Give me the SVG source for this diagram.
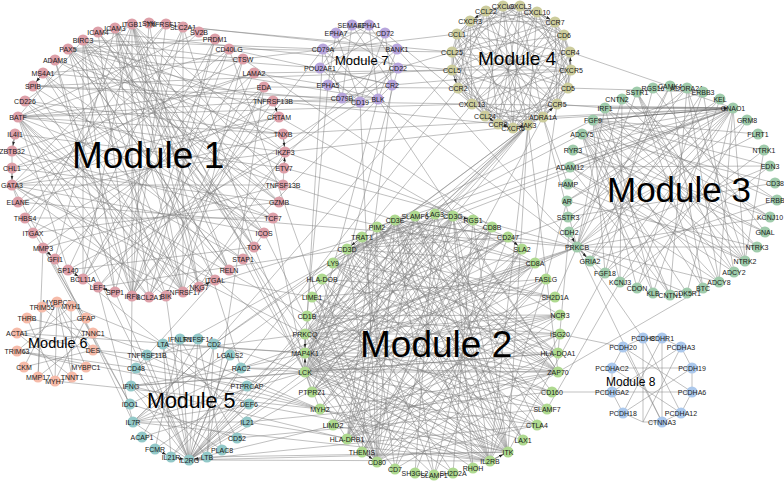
<svg xmlns="http://www.w3.org/2000/svg" width="784" height="481" viewBox="0 0 784 481">
<style>
text{font-family:"Liberation Sans",Arial,sans-serif;font-size:7px;text-anchor:middle;fill:#1a1a1a}
.mt{font-size:37px;text-anchor:start;fill:#000}
#edges path,#edges polygon{fill:none;stroke:#808080;stroke-width:0.5}
#edges line{stroke:#555;stroke-width:0.6;marker-end:url(#ah)}
.m1 circle{fill:#dd9fa8}
.m2 circle{fill:#aed98f}
.m3 circle{fill:#9fcbab}
.m4 circle{fill:#cccc9c}
.m5 circle{fill:#92c8c8}
.m6 circle{fill:#f6bba9}
.m7 circle{fill:#b7a5dc}
.m8 circle{fill:#abc8ec}
</style>
<defs>
<marker id="ah" markerUnits="userSpaceOnUse" markerWidth="12" markerHeight="6" refX="9.5" refY="1.5" orient="auto"><path d="M0,0L4,1.5L0,3z" fill="#222"/></marker>
</defs>
<rect width="784" height="481" fill="#fff"/>
<g id="edges">
<polygon points="503,6 520,6 537,12 555,22 564,35 570,52 571,70 568,88 557,104 543,117 528,125 513,128 498,124 485,116 472,104 458,88 452,70 452,52 457,34 470,21 486,11"/>
<polygon points="503,6 537,12 564,35 571,70 557,104 528,125 498,124 472,104 452,70 457,34 486,11 520,6 555,22 570,52 568,88 543,117 513,128 485,116 458,88 452,52 470,21"/>
<polygon points="503,6 564,35 557,104 498,124 452,70 486,11 555,22 568,88 513,128 458,88 470,21 537,12 571,70 528,125 472,104 457,34 520,6 570,52 543,117 485,116 452,52"/>
<polygon points="503,6 570,52 528,125 458,88 486,11 564,35 543,117 472,104 470,21 555,22 557,104 485,116 457,34 537,12 568,88 498,124 452,52 520,6 571,70 513,128 452,70"/>
<polygon points="503,6 557,104 452,70 555,22 513,128 470,21 571,70 472,104 520,6 543,117 452,52 564,35 498,124 486,11 568,88 458,88 537,12 528,125 457,34 570,52 485,116"/>
<polygon points="503,6 528,125 486,11 543,117 470,21 557,104 457,34 568,88 452,52 571,70 452,70 570,52 458,88 564,35 472,104 555,22 485,116 537,12 498,124 520,6 513,128"/>
<path d="M307 316L560 315M307 316L537 425M312 297L552 392M322 279L453 473M322 279L555 297M333 263L523 440M333 263L560 334M347 249L434 475M362 237L395 469M362 237L547 409M377 227L362 452M377 227L558 353M395 220L434 475M415 216L333 425M415 216L523 440M435 214L415 473M435 214L312 392M453 216L395 469M453 216L312 392M473 220L320 409M473 220L453 473M492 227L333 425M492 227L362 452M508 237L312 392M508 237L415 473M522 249L320 409M522 249L362 452M535 263L333 425M535 263L434 475M546 279L312 392M546 279L312 297M555 297L347 439M555 297L333 263M560 315L312 392M560 334L307 316M560 334L333 425M558 353L322 279M558 353L305 372M552 392L307 316M552 392L415 216M547 409L333 263M537 425L435 214M523 440L377 227M508 452L377 227M473 468L453 216M434 475L492 227M395 469L522 249M362 452L546 279M333 425L560 315M312 392L537 425
M305 372L305 353M305 353L305 334M347 249L362 237M377 227L395 220M435 214L453 216M508 237L522 249M490 461L508 452M362 452L377 462M312 392L305 372"/>
<path d="M305 372L347 249M305 372L395 220M305 372L453 216M305 372L492 227M305 372L508 237M305 372L535 263M305 372L555 297M305 372L560 334M305 372L558 372M305 372L547 409M305 372L508 452M305 372L490 461M305 372L453 473M305 372L377 462M305 372L347 439M305 372L415 216M305 372L362 237M305 372L473 220M305 372L560 315M305 372L523 440
M305 353L377 227M305 353L435 214M305 353L473 220M305 353L522 249M305 353L546 279M305 353L558 353M305 353L552 392M305 353L537 425M305 353L490 461M305 353L473 468M305 353L434 475M305 353L395 469M305 353L377 462M305 353L395 220M305 353L560 315
M305 334L395 220M305 334L453 216M305 334L508 237M305 334L535 263M305 334L560 315M305 334L558 372M305 334L508 452M305 334L490 461M305 334L362 452M305 334L362 237M305 334L492 227M305 334L560 334M305 334L547 409
M395 220L508 237M395 220L535 263M395 220L560 315M395 220L558 353M395 220L558 372M395 220L547 409M395 220L508 452M395 220L490 461M395 220L377 462M395 220L347 439M395 220L523 440M395 220L473 468
M347 249L453 216M347 249L508 237M347 249L535 263M347 249L555 297M347 249L558 353M347 249L558 372M347 249L537 425M347 249L490 461M347 249L377 462M347 249L473 220M347 249L492 227
M453 216L362 237M453 216L508 237M453 216L558 372M453 216L508 452M453 216L490 461M453 216L377 462M453 216L347 439M453 216L320 409M453 216L305 353
M490 461L312 297M490 461L322 279M490 461L362 237M490 461L377 227M490 461L415 216M490 461L320 409M490 461L333 425M490 461L560 334M490 461L546 279
M377 462L322 279M377 462L377 227M377 462L415 216M377 462L492 227M377 462L522 249M377 462L546 279M377 462L560 315M377 462L558 353M377 462L537 425M377 462L312 297
M508 452L312 297M508 452L333 263M508 452L362 237M508 452L415 216M508 452L435 214M508 452L473 220M508 452L305 353M508 452L320 409
M558 372L312 297M558 372L333 263M558 372L362 237M558 372L377 227M558 372L320 409M558 372L305 353M558 372L395 469M558 372L347 439
M347 439L415 216M347 439L492 227M347 439L535 263M347 439L546 279M347 439L560 334M347 439L558 353M347 439L435 214"/>
<path d="M98 32L273 218M115 28L55 259M132 24L25 101M149 23L132 296M166 24L12 185M183 27L254 247M199 32L18 117M215 39L83 279M229 49L25 218M243 59L183 292M254 73L12 168M264 87L43 248M273 101L33 86M279 117L98 287M283 134L18 202M285 152L199 287M284 168L15 134M283 185L55 60M279 202L33 233M273 218L12 151M264 233L43 73M254 247L68 270M243 259L25 101M229 270L68 49M215 280L12 185M199 287L18 117M183 292L25 218M166 296L264 87M149 297L215 39M115 292L183 27M98 287L264 87M83 279L229 49M68 270L285 152M55 259L254 73M43 248L283 185M33 233L273 101M25 218L273 218M18 202L199 32M12 185L166 296M12 168L279 202M12 151L149 297M15 134L243 259M18 117L183 292M25 101L283 134M33 86L264 233M43 73L229 270M55 60L115 292M68 49L279 202M83 40L83 279M115 28L229 270M183 27L68 270M243 59L43 73M279 117L12 168M283 185L132 24M254 247L98 32M199 287L149 23M132 296L229 49M68 270L18 117M25 218L166 24M12 151L254 73M33 86L166 296M55 60L283 134"/>
<path d="M83 40L279 117M83 40L285 152M83 40L279 202M83 40L254 247M83 40L215 280M83 40L166 296M83 40L115 292M83 40L243 59M83 40L273 218M83 40L18 117
M68 49L273 101M68 49L284 168M68 49L264 233M68 49L229 270M68 49L183 292M68 49L132 296M68 49L215 39
M132 24L229 270M132 24L183 292M132 24L132 296M132 24L83 279M132 24L33 233M132 24L285 152M132 24L264 233M132 24L199 287
M115 28L199 287M115 28L149 297M115 28L254 247M115 28L279 202
M18 117L285 152M18 117L283 134M18 117L273 101M18 117L264 87M18 117L229 49M18 117L273 218M18 117L132 296
M12 185L285 152M12 185L243 59M12 185L279 117M12 185L264 233M12 185L283 185
M132 296L166 24M132 296L215 39M132 296L243 59M132 296L273 101M132 296L55 60M132 296L98 32
M183 292L83 40M183 292L43 73M183 292L115 28M183 292L183 27M183 292L25 101
M149 297L254 73M149 297L264 87M149 297L18 117
M98 32L115 28M12 185L12 168M12 168L12 151M12 151L15 134M18 202L12 185M55 259L43 248M68 270L83 279M98 287L115 292M283 134L285 152M285 152L284 168M284 168L283 185M33 86L43 73M254 247L264 233M199 287L215 280"/>
<path d="M567 201L720 99M567 201L757 247M568 184L687 88M568 184L719 282M570 167L770 166M570 167L670 295M573 150L770 217M582 134L687 293M593 120L764 150M605 108L745 261M605 108L653 293M622 99L777 200M622 99L620 282M637 92L734 272M653 88L765 232M653 88L605 273M670 86L703 288M670 86L590 261M687 88L670 295M687 88L569 232M703 92L734 272M703 92L590 261M720 99L653 293M733 108L687 293M747 120L637 288M758 134L569 232M764 150L605 273M770 166L620 282M775 183L568 217M777 200L590 261M770 217L605 108M765 232L573 150M757 247L622 99M745 261L687 88M734 272L570 167M703 288L637 92M670 295L582 134M637 288L703 92"/>
<path d="M733 108L567 201M733 108L570 167M733 108L573 150M733 108L582 134M733 108L593 120M733 108L605 108M733 108L605 273M733 108L590 261M733 108L577 247M733 108L620 282M733 108L568 217M733 108L719 282M733 108L745 261
M577 247L605 108M577 247L622 99M577 247L637 92M577 247L670 86M577 247L720 99M577 247L747 120M577 247L770 166M577 247L770 217M577 247L757 247M577 247L719 282M577 247L687 293M577 247L590 261M577 247L605 273
M593 120L758 134M593 120L770 166M593 120L777 200M593 120L770 217M593 120L757 247M593 120L734 272M593 120L703 288M593 120L670 295M593 120L637 288M593 120L605 273
M582 134L703 92M582 134L775 183M582 134L765 232M582 134L745 261M582 134L719 282M582 134L653 293M582 134L620 282
M745 261L637 92M745 261L570 167M745 261L764 150M745 261L568 184M719 282L637 92M719 282L687 88"/>
<polygon points="352,25 392,85 320,68 385,33 360,102 336,33 398,68 328,85 369,25 378,99 323,49 397,49 342,98"/>
<polygon points="352,25 397,49 378,99 328,85 336,33 385,33 392,85 342,98 323,49 369,25 398,68 360,102 320,68"/>
<polygon points="163,344 247,422 133,422 214,344 207,457 136,368 247,386 155,449 180,339 237,438 130,404 230,355 189,460 147,355 249,404 142,437 198,339 222,450 131,386 241,368 171,457"/>
<path d="M189 460L163 344M189 460L180 339M189 460L198 339M189 460L214 344M189 460L230 355M189 460L241 368M189 460L247 386M189 460L249 404M189 460L247 422M189 460L133 422M189 460L136 368M189 460L131 386M133 422L241 368M133 422L249 404M133 422L214 344"/>
<polygon points="57,302 86,367 17,351 71,306 72,377 17,333 86,318 55,381 27,318 93,333 38,377 42,307 93,350 24,367"/>
<path d="M57 302L72 377M57 302L55 381M57 302L93 350M17 333L93 350M17 351L93 333"/>
<polygon points="643,338 662,338 681,347 692,368 692,392 681,413 662,422 643,422 623,413 612,392 612,368 623,347"/>
<polygon points="643,338 681,413 612,368 692,368 623,413 662,338 662,422 623,347 692,392 612,392 681,347 643,422"/>
<path d="M378 99L68 49M360 102L43 73M342 98L33 86M323 49L83 40M398 68L83 279M392 85L229 49M323 49L132 296M320 68L68 49M397 49L149 23M328 85L254 73M378 99L273 101M360 102L285 152M342 98L149 297M392 85L183 292
M378 99L305 372M360 102L377 462M398 68L312 392M378 99L558 372M392 85L347 439M323 49L305 353M328 85L307 316
M397 49L577 247M378 99L577 247M385 33L472 104M392 85L571 70M398 68L555 22
M229 49L377 462M264 233L377 462M273 218L305 372M98 287L347 249M279 202L535 263M215 280L312 297M279 117L535 263M25 101L395 220M18 117L305 353M285 152L473 220M254 247L320 409M243 259L305 372M243 59L492 227M132 24L305 372M115 28L305 353M98 32L305 334M12 185L305 334M12 151L307 316M199 287L362 237
M132 24L241 368M12 185L130 404M18 117L189 460M98 287L133 422M83 279L163 344M166 296L189 460M215 280L136 368M132 296L131 386M115 292L189 460M55 259L133 422M43 248L130 404M264 87L207 457
M254 73L452 70M264 87L458 88M229 49L452 52M18 117L472 104M33 86L452 70M285 152L528 125
M273 101L733 108M283 134L733 108M284 168L577 247M18 202L577 247M43 248L38 377M25 218L86 318
M528 125L305 372M528 125L305 353M528 125L305 334M528 125L490 461M528 125L558 372M528 125L508 452M528 125L322 279M528 125L307 316M528 125L312 392M557 104L535 263M472 104L312 297M543 117L362 452
M528 125L189 460M528 125L133 422M528 125L171 457M458 88L241 368M452 70L214 344
M557 104L605 108M543 117L568 184M543 117L577 247M543 117L733 108M568 88L703 92M570 52L733 108
M498 124L273 101M457 34L243 59M452 70L98 32M452 52L183 27
M577 247L305 372M577 247L305 353M577 247L305 334M577 247L555 297M577 247L395 220M567 201L546 279M568 217L307 316M733 108L377 227M733 108L453 216M733 108L347 249M593 120L395 220M582 134L333 263M620 282L547 409M605 273L508 452M569 232L558 353M703 288L558 372M577 247L241 368
M214 344L305 372M214 344L395 220M214 344L347 249M241 368L305 372M241 368L305 353M241 368L558 372M247 386L305 353M249 404L508 452M247 422L490 461M247 422L552 392M237 438L547 409M207 457L508 452M163 344L305 353M131 386L305 372M131 386L347 439M131 386L558 353M136 368L415 216M147 355L305 334M133 422L305 372M133 422L490 461
M189 460L305 372M189 460L305 353M189 460L305 334M189 460L490 461M189 460L508 452M189 460L558 372M189 460L537 425M189 460L535 263M189 460L508 237M189 460L395 220
M93 350L320 409M17 351L320 409M17 333L305 353M71 306L320 409M55 381L320 409M93 333L320 409M93 350L147 355M17 351L136 368
M643 338L569 232M662 422L577 247M623 347L560 334M612 392L552 392"/>
<line x1="283" y1="134" x2="285" y2="152"/>
<line x1="284" y1="168" x2="285" y2="152"/>
<line x1="12" y1="168" x2="12" y2="185"/>
<line x1="43" y1="248" x2="55" y2="259"/>
<line x1="68" y1="270" x2="83" y2="279"/>
<line x1="115" y1="292" x2="98" y2="287"/>
<line x1="43" y1="73" x2="33" y2="86"/>
<line x1="15" y1="134" x2="12" y2="151"/>
<line x1="273" y1="101" x2="279" y2="117"/>
<line x1="199" y1="287" x2="215" y2="280"/>
<line x1="543" y1="117" x2="557" y2="104"/>
<line x1="571" y1="70" x2="570" y2="52"/>
<line x1="537" y1="12" x2="555" y2="22"/>
<line x1="498" y1="124" x2="513" y2="128"/>
<line x1="528" y1="125" x2="513" y2="128"/>
<line x1="485" y1="116" x2="498" y2="124"/>
<line x1="452" y1="70" x2="458" y2="88"/>
<line x1="486" y1="11" x2="470" y2="21"/>
<line x1="362" y1="237" x2="347" y2="249"/>
<line x1="305" y1="334" x2="305" y2="353"/>
<line x1="305" y1="372" x2="305" y2="353"/>
<line x1="453" y1="216" x2="473" y2="220"/>
<line x1="508" y1="237" x2="522" y2="249"/>
<line x1="490" y1="461" x2="508" y2="452"/>
<line x1="362" y1="452" x2="377" y2="462"/>
<line x1="171" y1="457" x2="189" y2="460"/>
<line x1="207" y1="457" x2="189" y2="460"/>
<line x1="155" y1="449" x2="171" y2="457"/>
<line x1="569" y1="232" x2="577" y2="247"/>
<line x1="577" y1="247" x2="590" y2="261"/>
<line x1="605" y1="108" x2="733" y2="108"/>
<line x1="593" y1="120" x2="733" y2="108"/>
</g>
<g id="module1">
<g id="ICAM4" class="m1"><circle cx="98" cy="32" r="5.5"/><text x="98" y="34.5">ICAM4</text></g>
<g id="ICAM3" class="m1"><circle cx="115" cy="28" r="5.5"/><text x="115" y="30.5">ICAM3</text></g>
<g id="ITGB1" class="m1"><circle cx="132" cy="24" r="5.5"/><text x="132" y="26.5">ITGB1</text></g>
<g id="SYK" class="m1"><circle cx="149" cy="23" r="5.5"/><text x="149" y="25.5">SYK</text></g>
<g id="TNFRSF13C" class="m1"><circle cx="166" cy="24" r="5.5"/><text x="166" y="26.5">TNFRSF13C</text></g>
<g id="SLC2A1" class="m1"><circle cx="183" cy="27" r="5.5"/><text x="183" y="29.5">SLC2A1</text></g>
<g id="SV2B" class="m1"><circle cx="199" cy="32" r="5.5"/><text x="199" y="34.5">SV2B</text></g>
<g id="PRDM1" class="m1"><circle cx="215" cy="39" r="5.5"/><text x="215" y="41.5">PRDM1</text></g>
<g id="CD40LG" class="m1"><circle cx="229" cy="49" r="5.5"/><text x="229" y="51.5">CD40LG</text></g>
<g id="CTSW" class="m1"><circle cx="243" cy="59" r="5.5"/><text x="243" y="61.5">CTSW</text></g>
<g id="LAMA2" class="m1"><circle cx="254" cy="73" r="5.5"/><text x="254" y="75.5">LAMA2</text></g>
<g id="EDA" class="m1"><circle cx="264" cy="87" r="5.5"/><text x="264" y="89.5">EDA</text></g>
<g id="TNFRSF13B" class="m1"><circle cx="273" cy="101" r="5.5"/><text x="273" y="103.5">TNFRSF13B</text></g>
<g id="CRTAM" class="m1"><circle cx="279" cy="117" r="5.5"/><text x="279" y="119.5">CRTAM</text></g>
<g id="TNXB" class="m1"><circle cx="283" cy="134" r="5.5"/><text x="283" y="136.5">TNXB</text></g>
<g id="IKZF3" class="m1"><circle cx="285" cy="152" r="5.5"/><text x="285" y="154.5">IKZF3</text></g>
<g id="ETV7" class="m1"><circle cx="284" cy="168" r="5.5"/><text x="284" y="170.5">ETV7</text></g>
<g id="TNFSF13B" class="m1"><circle cx="283" cy="185" r="5.5"/><text x="283" y="187.5">TNFSF13B</text></g>
<g id="GZMB" class="m1"><circle cx="279" cy="202" r="5.5"/><text x="279" y="204.5">GZMB</text></g>
<g id="TCF7" class="m1"><circle cx="273" cy="218" r="5.5"/><text x="273" y="220.5">TCF7</text></g>
<g id="ICOS" class="m1"><circle cx="264" cy="233" r="5.5"/><text x="264" y="235.5">ICOS</text></g>
<g id="TOX" class="m1"><circle cx="254" cy="247" r="5.5"/><text x="254" y="249.5">TOX</text></g>
<g id="STAP1" class="m1"><circle cx="243" cy="259" r="5.5"/><text x="243" y="261.5">STAP1</text></g>
<g id="RELN" class="m1"><circle cx="229" cy="270" r="5.5"/><text x="229" y="272.5">RELN</text></g>
<g id="ITGAL" class="m1"><circle cx="215" cy="280" r="5.5"/><text x="215" y="282.5">ITGAL</text></g>
<g id="NKG7" class="m1"><circle cx="199" cy="287" r="5.5"/><text x="199" y="289.5">NKG7</text></g>
<g id="TNFRSF17" class="m1"><circle cx="183" cy="292" r="5.5"/><text x="183" y="294.5">TNFRSF17</text></g>
<g id="BIK" class="m1"><circle cx="166" cy="296" r="5.5"/><text x="166" y="298.5">BIK</text></g>
<g id="BCL2A1" class="m1"><circle cx="149" cy="297" r="5.5"/><text x="149" y="299.5">BCL2A1</text></g>
<g id="IRF8" class="m1"><circle cx="132" cy="296" r="5.5"/><text x="132" y="298.5">IRF8</text></g>
<g id="SPP1" class="m1"><circle cx="115" cy="292" r="5.5"/><text x="115" y="294.5">SPP1</text></g>
<g id="LEF1" class="m1"><circle cx="98" cy="287" r="5.5"/><text x="98" y="289.5">LEF1</text></g>
<g id="BCL11A" class="m1"><circle cx="83" cy="279" r="5.5"/><text x="83" y="281.5">BCL11A</text></g>
<g id="SP140" class="m1"><circle cx="68" cy="270" r="5.5"/><text x="68" y="272.5">SP140</text></g>
<g id="GFI1" class="m1"><circle cx="55" cy="259" r="5.5"/><text x="55" y="261.5">GFI1</text></g>
<g id="MMP3" class="m1"><circle cx="43" cy="248" r="5.5"/><text x="43" y="250.5">MMP3</text></g>
<g id="ITGAX" class="m1"><circle cx="33" cy="233" r="5.5"/><text x="33" y="235.5">ITGAX</text></g>
<g id="THBS4" class="m1"><circle cx="25" cy="218" r="5.5"/><text x="25" y="220.5">THBS4</text></g>
<g id="ELANE" class="m1"><circle cx="18" cy="202" r="5.5"/><text x="18" y="204.5">ELANE</text></g>
<g id="GATA3" class="m1"><circle cx="12" cy="185" r="5.5"/><text x="12" y="187.5">GATA3</text></g>
<g id="CHL1" class="m1"><circle cx="12" cy="168" r="5.5"/><text x="12" y="170.5">CHL1</text></g>
<g id="ZBTB32" class="m1"><circle cx="12" cy="151" r="5.5"/><text x="12" y="153.5">ZBTB32</text></g>
<g id="IL4I1" class="m1"><circle cx="15" cy="134" r="5.5"/><text x="15" y="136.5">IL4I1</text></g>
<g id="BATF" class="m1"><circle cx="18" cy="117" r="5.5"/><text x="18" y="119.5">BATF</text></g>
<g id="CD226" class="m1"><circle cx="25" cy="101" r="5.5"/><text x="25" y="103.5">CD226</text></g>
<g id="SPIB" class="m1"><circle cx="33" cy="86" r="5.5"/><text x="33" y="88.5">SPIB</text></g>
<g id="MS4A1" class="m1"><circle cx="43" cy="73" r="5.5"/><text x="43" y="75.5">MS4A1</text></g>
<g id="ADAM8" class="m1"><circle cx="55" cy="60" r="5.5"/><text x="55" y="62.5">ADAM8</text></g>
<g id="PAX5" class="m1"><circle cx="68" cy="49" r="5.5"/><text x="68" y="51.5">PAX5</text></g>
<g id="BIRC3" class="m1"><circle cx="83" cy="40" r="5.5"/><text x="83" y="42.5">BIRC3</text></g>
</g>
<g id="module7">
<g id="SEMA4D" class="m7"><circle cx="352" cy="25" r="5.5"/><text x="352" y="27.5">SEMA4D</text></g>
<g id="EPHA1" class="m7"><circle cx="369" cy="25" r="5.5"/><text x="369" y="27.5">EPHA1</text></g>
<g id="CD72" class="m7"><circle cx="385" cy="33" r="5.5"/><text x="385" y="35.5">CD72</text></g>
<g id="BANK1" class="m7"><circle cx="397" cy="49" r="5.5"/><text x="397" y="51.5">BANK1</text></g>
<g id="CD22" class="m7"><circle cx="398" cy="68" r="5.5"/><text x="398" y="70.5">CD22</text></g>
<g id="CR2" class="m7"><circle cx="392" cy="85" r="5.5"/><text x="392" y="87.5">CR2</text></g>
<g id="BLK" class="m7"><circle cx="378" cy="99" r="5.5"/><text x="378" y="101.5">BLK</text></g>
<g id="CD19" class="m7"><circle cx="360" cy="102" r="5.5"/><text x="360" y="104.5">CD19</text></g>
<g id="CD79B" class="m7"><circle cx="342" cy="98" r="5.5"/><text x="342" y="100.5">CD79B</text></g>
<g id="EPHA5" class="m7"><circle cx="328" cy="85" r="5.5"/><text x="328" y="87.5">EPHA5</text></g>
<g id="POU2AF1" class="m7"><circle cx="320" cy="68" r="5.5"/><text x="320" y="70.5">POU2AF1</text></g>
<g id="CD79A" class="m7"><circle cx="323" cy="49" r="5.5"/><text x="323" y="51.5">CD79A</text></g>
<g id="EPHA7" class="m7"><circle cx="336" cy="33" r="5.5"/><text x="336" y="35.5">EPHA7</text></g>
</g>
<g id="module4">
<g id="CXCL9" class="m4"><circle cx="503" cy="6" r="5.5"/><text x="503" y="8.5">CXCL9</text></g>
<g id="CXCL3" class="m4"><circle cx="520" cy="6" r="5.5"/><text x="520" y="8.5">CXCL3</text></g>
<g id="CXCL10" class="m4"><circle cx="537" cy="12" r="5.5"/><text x="537" y="14.5">CXCL10</text></g>
<g id="CCR7" class="m4"><circle cx="555" cy="22" r="5.5"/><text x="555" y="24.5">CCR7</text></g>
<g id="CD6" class="m4"><circle cx="564" cy="35" r="5.5"/><text x="564" y="37.5">CD6</text></g>
<g id="CCR4" class="m4"><circle cx="570" cy="52" r="5.5"/><text x="570" y="54.5">CCR4</text></g>
<g id="CXCR5" class="m4"><circle cx="571" cy="70" r="5.5"/><text x="571" y="72.5">CXCR5</text></g>
<g id="CD5" class="m4"><circle cx="568" cy="88" r="5.5"/><text x="568" y="90.5">CD5</text></g>
<g id="CCR5" class="m4"><circle cx="557" cy="104" r="5.5"/><text x="557" y="106.5">CCR5</text></g>
<g id="ADRA1A" class="m4"><circle cx="543" cy="117" r="5.5"/><text x="543" y="119.5">ADRA1A</text></g>
<g id="JAK3" class="m4"><circle cx="528" cy="125" r="5.5"/><text x="528" y="127.5">JAK3</text></g>
<g id="CXCR6" class="m4"><circle cx="513" cy="128" r="5.5"/><text x="513" y="130.5">CXCR6</text></g>
<g id="CCR8" class="m4"><circle cx="498" cy="124" r="5.5"/><text x="498" y="126.5">CCR8</text></g>
<g id="CCL24" class="m4"><circle cx="485" cy="116" r="5.5"/><text x="485" y="118.5">CCL24</text></g>
<g id="CXCL13" class="m4"><circle cx="472" cy="104" r="5.5"/><text x="472" y="106.5">CXCL13</text></g>
<g id="CCR2" class="m4"><circle cx="458" cy="88" r="5.5"/><text x="458" y="90.5">CCR2</text></g>
<g id="CCL5" class="m4"><circle cx="452" cy="70" r="5.5"/><text x="452" y="72.5">CCL5</text></g>
<g id="CCL25" class="m4"><circle cx="452" cy="52" r="5.5"/><text x="452" y="54.5">CCL25</text></g>
<g id="CCL1" class="m4"><circle cx="457" cy="34" r="5.5"/><text x="457" y="36.5">CCL1</text></g>
<g id="CXCR3" class="m4"><circle cx="470" cy="21" r="5.5"/><text x="470" y="23.5">CXCR3</text></g>
<g id="CCL22" class="m4"><circle cx="486" cy="11" r="5.5"/><text x="486" y="13.5">CCL22</text></g>
</g>
<g id="module3">
<g id="AR" class="m3"><circle cx="567" cy="201" r="5.5"/><text x="567" y="203.5">AR</text></g>
<g id="HAMP" class="m3"><circle cx="568" cy="184" r="5.5"/><text x="568" y="186.5">HAMP</text></g>
<g id="ADAM12" class="m3"><circle cx="570" cy="167" r="5.5"/><text x="570" y="169.5">ADAM12</text></g>
<g id="RYR3" class="m3"><circle cx="573" cy="150" r="5.5"/><text x="573" y="152.5">RYR3</text></g>
<g id="ADCY5" class="m3"><circle cx="582" cy="134" r="5.5"/><text x="582" y="136.5">ADCY5</text></g>
<g id="FGF9" class="m3"><circle cx="593" cy="120" r="5.5"/><text x="593" y="122.5">FGF9</text></g>
<g id="IRF1" class="m3"><circle cx="605" cy="108" r="5.5"/><text x="605" y="110.5">IRF1</text></g>
<g id="CNTN2" class="m3"><circle cx="622" cy="99" r="5.5"/><text x="617" y="101.5">CNTN2</text></g>
<g id="SSTR1" class="m3"><circle cx="637" cy="92" r="5.5"/><text x="637" y="94.5">SSTR1</text></g>
<g id="RGS16" class="m3"><circle cx="653" cy="88" r="5.5"/><text x="653" y="90.5">RGS16</text></g>
<g id="CAMK4" class="m3"><circle cx="670" cy="86" r="5.5"/><text x="670" y="88.5">CAMK4</text></g>
<g id="ADORA2A" class="m3"><circle cx="687" cy="88" r="5.5"/><text x="687" y="90.5">ADORA2A</text></g>
<g id="ERBB3" class="m3"><circle cx="703" cy="92" r="5.5"/><text x="703" y="94.5">ERBB3</text></g>
<g id="KEL" class="m3"><circle cx="720" cy="99" r="5.5"/><text x="720" y="101.5">KEL</text></g>
<g id="GNAO1" class="m3"><circle cx="733" cy="108" r="5.5"/><text x="733" y="110.5">GNAO1</text></g>
<g id="GRM8" class="m3"><circle cx="747" cy="120" r="5.5"/><text x="747" y="122.5">GRM8</text></g>
<g id="FLRT1" class="m3"><circle cx="758" cy="134" r="5.5"/><text x="758" y="136.5">FLRT1</text></g>
<g id="NTRK1" class="m3"><circle cx="764" cy="150" r="5.5"/><text x="764" y="152.5">NTRK1</text></g>
<g id="EDN3" class="m3"><circle cx="770" cy="166" r="5.5"/><text x="770" y="168.5">EDN3</text></g>
<g id="CD38" class="m3"><circle cx="775" cy="183" r="5.5"/><text x="775" y="185.5">CD38</text></g>
<g id="ERBB4" class="m3"><circle cx="777" cy="200" r="5.5"/><text x="777" y="202.5">ERBB4</text></g>
<g id="KCNJ10" class="m3"><circle cx="770" cy="217" r="5.5"/><text x="770" y="219.5">KCNJ10</text></g>
<g id="GNAL" class="m3"><circle cx="765" cy="232" r="5.5"/><text x="765" y="234.5">GNAL</text></g>
<g id="NTRK3" class="m3"><circle cx="757" cy="247" r="5.5"/><text x="757" y="249.5">NTRK3</text></g>
<g id="NTRK2" class="m3"><circle cx="745" cy="261" r="5.5"/><text x="745" y="263.5">NTRK2</text></g>
<g id="ADCY2" class="m3"><circle cx="734" cy="272" r="5.5"/><text x="734" y="274.5">ADCY2</text></g>
<g id="ADCY8" class="m3"><circle cx="719" cy="282" r="5.5"/><text x="719" y="284.5">ADCY8</text></g>
<g id="BTC" class="m3"><circle cx="703" cy="288" r="5.5"/><text x="703" y="290.5">BTC</text></g>
<g id="CDK5R1" class="m3"><circle cx="687" cy="293" r="5.5"/><text x="687" y="295.5">CDK5R1</text></g>
<g id="CNTN1" class="m3"><circle cx="670" cy="295" r="5.5"/><text x="670" y="297.5">CNTN1</text></g>
<g id="KLB" class="m3"><circle cx="653" cy="293" r="5.5"/><text x="653" y="295.5">KLB</text></g>
<g id="CDON" class="m3"><circle cx="637" cy="288" r="5.5"/><text x="637" y="290.5">CDON</text></g>
<g id="KCNJ3" class="m3"><circle cx="620" cy="282" r="5.5"/><text x="620" y="284.5">KCNJ3</text></g>
<g id="FGF18" class="m3"><circle cx="605" cy="273" r="5.5"/><text x="605" y="275.5">FGF18</text></g>
<g id="GRIA2" class="m3"><circle cx="590" cy="261" r="5.5"/><text x="590" y="263.5">GRIA2</text></g>
<g id="PRKCB" class="m3"><circle cx="577" cy="247" r="5.5"/><text x="577" y="249.5">PRKCB</text></g>
<g id="CDH2" class="m3"><circle cx="569" cy="232" r="5.5"/><text x="569" y="234.5">CDH2</text></g>
<g id="SSTR3" class="m3"><circle cx="568" cy="217" r="5.5"/><text x="568" y="219.5">SSTR3</text></g>
</g>
<g id="module2">
<g id="CD1B" class="m2"><circle cx="307" cy="316" r="5.5"/><text x="307" y="318.5">CD1B</text></g>
<g id="LIME1" class="m2"><circle cx="312" cy="297" r="5.5"/><text x="312" y="299.5">LIME1</text></g>
<g id="HLA-DOB" class="m2"><circle cx="322" cy="279" r="5.5"/><text x="322" y="281.5">HLA-DOB</text></g>
<g id="LY9" class="m2"><circle cx="333" cy="263" r="5.5"/><text x="333" y="265.5">LY9</text></g>
<g id="CD3D" class="m2"><circle cx="347" cy="249" r="5.5"/><text x="347" y="251.5">CD3D</text></g>
<g id="TRAT1" class="m2"><circle cx="362" cy="237" r="5.5"/><text x="362" y="239.5">TRAT1</text></g>
<g id="PIM2" class="m2"><circle cx="377" cy="227" r="5.5"/><text x="377" y="229.5">PIM2</text></g>
<g id="CD3E" class="m2"><circle cx="395" cy="220" r="5.5"/><text x="395" y="222.5">CD3E</text></g>
<g id="SLAMF6" class="m2"><circle cx="415" cy="216" r="5.5"/><text x="415" y="218.5">SLAMF6</text></g>
<g id="LAG3" class="m2"><circle cx="435" cy="214" r="5.5"/><text x="435" y="216.5">LAG3</text></g>
<g id="CD3G" class="m2"><circle cx="453" cy="216" r="5.5"/><text x="453" y="218.5">CD3G</text></g>
<g id="RGS1" class="m2"><circle cx="473" cy="220" r="5.5"/><text x="473" y="222.5">RGS1</text></g>
<g id="CD8B" class="m2"><circle cx="492" cy="227" r="5.5"/><text x="492" y="229.5">CD8B</text></g>
<g id="CD247" class="m2"><circle cx="508" cy="237" r="5.5"/><text x="508" y="239.5">CD247</text></g>
<g id="SLA2" class="m2"><circle cx="522" cy="249" r="5.5"/><text x="522" y="251.5">SLA2</text></g>
<g id="CD8A" class="m2"><circle cx="535" cy="263" r="5.5"/><text x="535" y="265.5">CD8A</text></g>
<g id="FASLG" class="m2"><circle cx="546" cy="279" r="5.5"/><text x="546" y="281.5">FASLG</text></g>
<g id="SH2D1A" class="m2"><circle cx="555" cy="297" r="5.5"/><text x="555" y="299.5">SH2D1A</text></g>
<g id="NCR3" class="m2"><circle cx="560" cy="315" r="5.5"/><text x="560" y="317.5">NCR3</text></g>
<g id="ISG20" class="m2"><circle cx="560" cy="334" r="5.5"/><text x="560" y="336.5">ISG20</text></g>
<g id="HLA-DQA1" class="m2"><circle cx="558" cy="353" r="5.5"/><text x="558" y="355.5">HLA-DQA1</text></g>
<g id="ZAP70" class="m2"><circle cx="558" cy="372" r="5.5"/><text x="558" y="374.5">ZAP70</text></g>
<g id="CD160" class="m2"><circle cx="552" cy="392" r="5.5"/><text x="552" y="394.5">CD160</text></g>
<g id="SLAMF7" class="m2"><circle cx="547" cy="409" r="5.5"/><text x="547" y="411.5">SLAMF7</text></g>
<g id="CTLA4" class="m2"><circle cx="537" cy="425" r="5.5"/><text x="537" y="427.5">CTLA4</text></g>
<g id="LAX1" class="m2"><circle cx="523" cy="440" r="5.5"/><text x="523" y="442.5">LAX1</text></g>
<g id="ITK" class="m2"><circle cx="508" cy="452" r="5.5"/><text x="508" y="454.5">ITK</text></g>
<g id="IL2RB" class="m2"><circle cx="490" cy="461" r="5.5"/><text x="490" y="463.5">IL2RB</text></g>
<g id="RHOH" class="m2"><circle cx="473" cy="468" r="5.5"/><text x="473" y="470.5">RHOH</text></g>
<g id="SH2D2A" class="m2"><circle cx="453" cy="473" r="5.5"/><text x="453" y="475.5">SH2D2A</text></g>
<g id="SLAMF1" class="m2"><circle cx="434" cy="475" r="5.5"/><text x="434" y="477.5">SLAMF1</text></g>
<g id="SH3GL2" class="m2"><circle cx="415" cy="473" r="5.5"/><text x="415" y="475.5">SH3GL2</text></g>
<g id="CD7" class="m2"><circle cx="395" cy="469" r="5.5"/><text x="395" y="471.5">CD7</text></g>
<g id="CD80" class="m2"><circle cx="377" cy="462" r="5.5"/><text x="377" y="464.5">CD80</text></g>
<g id="THEMIS" class="m2"><circle cx="362" cy="452" r="5.5"/><text x="362" y="454.5">THEMIS</text></g>
<g id="HLA-DRB1" class="m2"><circle cx="347" cy="439" r="5.5"/><text x="347" y="441.5">HLA-DRB1</text></g>
<g id="LIMD2" class="m2"><circle cx="333" cy="425" r="5.5"/><text x="333" y="427.5">LIMD2</text></g>
<g id="MYH2" class="m2"><circle cx="320" cy="409" r="5.5"/><text x="320" y="411.5">MYH2</text></g>
<g id="PTPRZ1" class="m2"><circle cx="312" cy="392" r="5.5"/><text x="312" y="394.5">PTPRZ1</text></g>
<g id="LCK" class="m2"><circle cx="305" cy="372" r="5.5"/><text x="305" y="374.5">LCK</text></g>
<g id="MAP4K1" class="m2"><circle cx="305" cy="353" r="5.5"/><text x="305" y="355.5">MAP4K1</text></g>
<g id="PRKCQ" class="m2"><circle cx="305" cy="334" r="5.5"/><text x="305" y="336.5">PRKCQ</text></g>
</g>
<g id="module5">
<g id="LTA" class="m5"><circle cx="163" cy="344" r="5.5"/><text x="163" y="346.5">LTA</text></g>
<g id="IFNLR1" class="m5"><circle cx="180" cy="339" r="5.5"/><text x="180" y="341.5">IFNLR1</text></g>
<g id="TNFSF14" class="m5"><circle cx="198" cy="339" r="5.5"/><text x="198" y="341.5">TNFSF14</text></g>
<g id="CD2" class="m5"><circle cx="214" cy="344" r="5.5"/><text x="214" y="346.5">CD2</text></g>
<g id="LGALS2" class="m5"><circle cx="230" cy="355" r="5.5"/><text x="230" y="357.5">LGALS2</text></g>
<g id="RAC2" class="m5"><circle cx="241" cy="368" r="5.5"/><text x="241" y="370.5">RAC2</text></g>
<g id="PTPRCAP" class="m5"><circle cx="247" cy="386" r="5.5"/><text x="247" y="388.5">PTPRCAP</text></g>
<g id="DEF6" class="m5"><circle cx="249" cy="404" r="5.5"/><text x="249" y="406.5">DEF6</text></g>
<g id="IL21" class="m5"><circle cx="247" cy="422" r="5.5"/><text x="247" y="424.5">IL21</text></g>
<g id="CD52" class="m5"><circle cx="237" cy="438" r="5.5"/><text x="237" y="440.5">CD52</text></g>
<g id="PLAC8" class="m5"><circle cx="222" cy="450" r="5.5"/><text x="222" y="452.5">PLAC8</text></g>
<g id="LTB" class="m5"><circle cx="207" cy="457" r="5.5"/><text x="207" y="459.5">LTB</text></g>
<g id="IL2RG" class="m5"><circle cx="189" cy="460" r="5.5"/><text x="189" y="462.5">IL2RG</text></g>
<g id="IL21R" class="m5"><circle cx="171" cy="457" r="5.5"/><text x="171" y="459.5">IL21R</text></g>
<g id="FCMR" class="m5"><circle cx="155" cy="449" r="5.5"/><text x="155" y="451.5">FCMR</text></g>
<g id="ACAP1" class="m5"><circle cx="142" cy="437" r="5.5"/><text x="142" y="439.5">ACAP1</text></g>
<g id="IL7R" class="m5"><circle cx="133" cy="422" r="5.5"/><text x="133" y="424.5">IL7R</text></g>
<g id="IDO1" class="m5"><circle cx="130" cy="404" r="5.5"/><text x="130" y="406.5">IDO1</text></g>
<g id="IFNG" class="m5"><circle cx="131" cy="386" r="5.5"/><text x="131" y="388.5">IFNG</text></g>
<g id="CD48" class="m5"><circle cx="136" cy="368" r="5.5"/><text x="136" y="370.5">CD48</text></g>
<g id="TNFRSF11B" class="m5"><circle cx="147" cy="355" r="5.5"/><text x="147" y="357.5">TNFRSF11B</text></g>
</g>
<g id="module6">
<g id="MYBPC2" class="m6"><circle cx="57" cy="302" r="5.5"/><text x="57" y="304.5">MYBPC2</text></g>
<g id="MYH1" class="m6"><circle cx="71" cy="306" r="5.5"/><text x="71" y="308.5">MYH1</text></g>
<g id="GFAP" class="m6"><circle cx="86" cy="318" r="5.5"/><text x="86" y="320.5">GFAP</text></g>
<g id="TNNC1" class="m6"><circle cx="93" cy="333" r="5.5"/><text x="93" y="335.5">TNNC1</text></g>
<g id="DES" class="m6"><circle cx="93" cy="350" r="5.5"/><text x="93" y="352.5">DES</text></g>
<g id="MYBPC1" class="m6"><circle cx="86" cy="367" r="5.5"/><text x="86" y="369.5">MYBPC1</text></g>
<g id="TNNT1" class="m6"><circle cx="72" cy="377" r="5.5"/><text x="72" y="379.5">TNNT1</text></g>
<g id="MYH7" class="m6"><circle cx="55" cy="381" r="5.5"/><text x="55" y="383.5">MYH7</text></g>
<g id="MMP17" class="m6"><circle cx="38" cy="377" r="5.5"/><text x="38" y="379.5">MMP17</text></g>
<g id="CKM" class="m6"><circle cx="24" cy="367" r="5.5"/><text x="24" y="369.5">CKM</text></g>
<g id="TRIM63" class="m6"><circle cx="17" cy="351" r="5.5"/><text x="17" y="353.5">TRIM63</text></g>
<g id="ACTA1" class="m6"><circle cx="17" cy="333" r="5.5"/><text x="17" y="335.5">ACTA1</text></g>
<g id="THRB" class="m6"><circle cx="27" cy="318" r="5.5"/><text x="27" y="320.5">THRB</text></g>
<g id="TRIM55" class="m6"><circle cx="42" cy="307" r="5.5"/><text x="42" y="309.5">TRIM55</text></g>
</g>
<g id="module8">
<g id="PCDH8" class="m8"><circle cx="643" cy="338" r="5.5"/><text x="643" y="340.5">PCDH8</text></g>
<g id="CDHR1" class="m8"><circle cx="662" cy="338" r="5.5"/><text x="662" y="340.5">CDHR1</text></g>
<g id="PCDHA3" class="m8"><circle cx="681" cy="347" r="5.5"/><text x="681" y="349.5">PCDHA3</text></g>
<g id="PCDH19" class="m8"><circle cx="692" cy="368" r="5.5"/><text x="692" y="370.5">PCDH19</text></g>
<g id="PCDHA6" class="m8"><circle cx="692" cy="392" r="5.5"/><text x="692" y="394.5">PCDHA6</text></g>
<g id="PCDHA12" class="m8"><circle cx="681" cy="413" r="5.5"/><text x="681" y="415.5">PCDHA12</text></g>
<g id="CTNNA3" class="m8"><circle cx="662" cy="422" r="5.5"/><text x="662" y="424.5">CTNNA3</text></g>
<g id="PCDH18" class="m8"><circle cx="623" cy="413" r="5.5"/><text x="623" y="415.5">PCDH18</text></g>
<g id="PCDHGA2" class="m8"><circle cx="612" cy="392" r="5.5"/><text x="612" y="394.5">PCDHGA2</text></g>
<g id="PCDHAC2" class="m8"><circle cx="612" cy="368" r="5.5"/><text x="612" y="370.5">PCDHAC2</text></g>
<g id="PCDH20" class="m8"><circle cx="623" cy="347" r="5.5"/><text x="623" y="349.5">PCDH20</text></g>
</g>
<g id="module-labels">
<text class="mt" x="72" y="168">Module 1</text>
<text class="mt" x="360" y="357">Module 2</text>
<text class="mt" x="607" y="202" style="font-size:35px">Module 3</text>
<text class="mt" x="478" y="65" style="font-size:19px">Module 4</text>
<text class="mt" x="147" y="408" style="font-size:21.5px">Module 5</text>
<text class="mt" x="28" y="348" style="font-size:14.5px">Module 6</text>
<text class="mt" x="335" y="65" style="font-size:13px">Module 7</text>
<text class="mt" x="606" y="386" style="font-size:12px">Module 8</text>
</g>
</svg>
